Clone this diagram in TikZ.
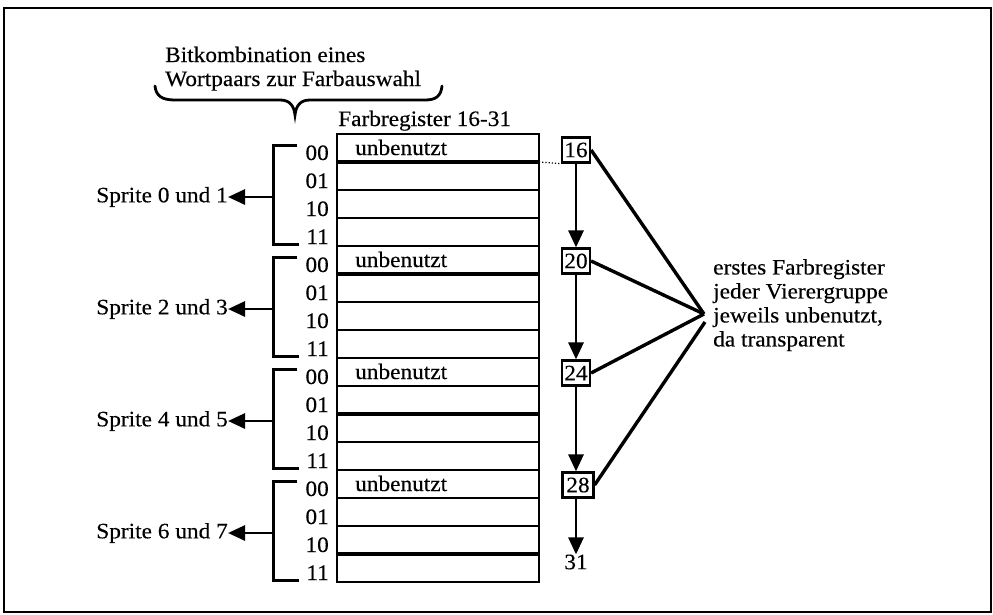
\documentclass[tikz,border=0pt]{standalone}
\usepackage{fontspec}
\setmainfont[FakeStretch=1.06, FakeBold=0.3]{Liberation Serif}
\usetikzlibrary{arrows.meta}
\begin{document}
\begin{tikzpicture}[x=1pt,y=-1pt,
  txt/.style={font=\fontsize{22}{24}\selectfont, inner sep=0pt},
  regline/.style={line width=2.2pt},
  heavyline/.style={line width=4.5pt},
  brk/.style={line width=3pt},
  tip/.style={line width=2.8pt,-{Triangle[length=17pt,width=15pt]}},
  numbox/.style={draw, line width=2.2pt, fill=white, minimum width=28pt,
    minimum height=25pt, inner sep=0pt, font=\fontsize{22}{24}\selectfont},
  fan/.style={line width=3.4pt}]
\useasboundingbox (0,0) rectangle (993,614);

% outer frame
\draw[line width=2.2pt] (4,8) rectangle (991,612);

% headline with brace
\node[txt, anchor=base west] (head1) at (165,62) {Bitkombination eines};
\node[txt, anchor=base west] (head2) at (165,86) {Wortpaars zur Farbauswahl};
\draw[line width=2.8pt, line cap=round]
  (155,86) .. controls (156,96) and (162,100) .. (175,100)
  -- (280,100) .. controls (290,100) and (294,106) .. (295,115)
  .. controls (296,106) and (300,100) .. (310,100)
  -- (425,100) .. controls (436,100) and (441,96) .. (442,86);

% register table
\node[txt, anchor=base west] (regtitle) at (338,126) {Farbregister 16-31};
\foreach \k in {1,...,15}
  \draw[regline] (337,{134+28*\k}) -- (539,{134+28*\k});
\foreach \k in {1,5,10,15}
  \draw[heavyline] (337,{134+28*\k}) -- (539,{134+28*\k});
\draw[regline] (337,134) rectangle (539,582);

% groups of four registers, one per sprite pair
\foreach \g/\lab in {0/{Sprite 0 und 1},1/{Sprite 2 und 3},2/{Sprite 4 und 5},3/{Sprite 6 und 7}}{
  \pgfmathsetmacro{\yo}{134+112*\g}
  \node[txt, anchor=base west] (free\g) at (355,\yo+21) {unbenutzt};
  \node[txt, anchor=base east] (c\g a) at (329,\yo+26) {00};
  \node[txt, anchor=base east] (c\g b) at (329,\yo+54) {01};
  \node[txt, anchor=base east] (c\g c) at (329,\yo+82) {10};
  \node[txt, anchor=base east] (c\g d) at (329,\yo+110) {11};
  \draw[brk] (297,\yo+11) -- (273,\yo+11) -- (273,\yo+110) -- (299,\yo+110);
  \coordinate (m\g) at (273,\yo+63);
  \node[txt, anchor=east] (s\g) at (228,\yo+63) {\lab};
  \draw[tip] (m\g) -- (s\g.east);
}

% first register numbers of each group
\node[numbox] (b16) at (576,150) {16};
\node[numbox] (b20) at (576,261) {20};
\node[numbox] (b24) at (576,373) {24};
\node[numbox, minimum width=31pt] (b28) at (578,485) {28};
\node[txt] (l31) at (576,562) {31};
\coordinate (dotstart) at (539,162);
\draw[dotted, line width=1.2pt] (dotstart) -- (b16.south west);
\draw[tip] (b16.south) -- (b20.north);
\draw[tip] (b20.south) -- (b24.north);
\draw[tip] (b24.south) -- (b24.south |- b28.north);
\draw[tip] (b24.south |- b28.south) -- (l31.north);

% note on the unused first register
\coordinate (fp) at (704,314);
\coordinate (fq) at (705,322);
\draw[fan] (b16.east) -- (fp);
\draw[fan] (b20.east) -- (fp);
\draw[fan] (b24.east) -- (fp);
\draw[fan] (b28.east) -- (fq);
\node[txt, align=left, anchor=north west] (note) at (713,259)
  {erstes Farbregister\\jeder Vierergruppe\\jeweils unbenutzt,\\da transparent};
\end{tikzpicture}
\end{document}
